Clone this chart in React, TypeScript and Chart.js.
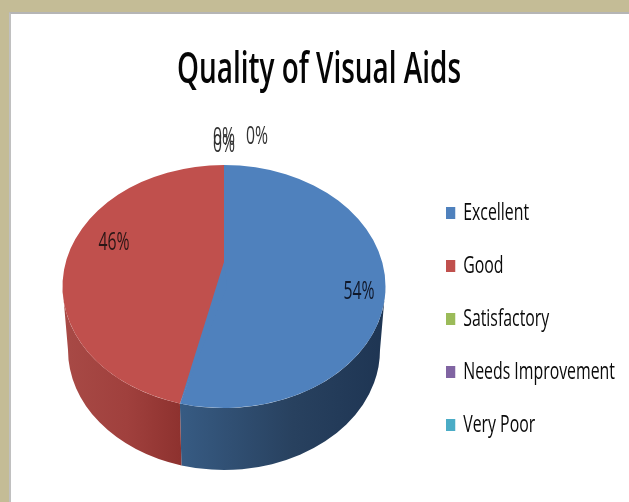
import React, { useEffect, useRef } from "react";
import { Chart, registerables } from "chart.js";

Chart.register(...registerables);

const titleText = "Quality of Visual Aids";
const categories = ["Excellent", "Good", "Satisfactory", "Needs Improvement", "Very Poor"];
const shares = [54.4, 45.6, 0, 0, 0];
const sliceColors = ["#4F81BD", "#C0504D", "#9BBB59", "#8064A2", "#4BACC6"];

const FACE = { cx: 224, cy: 286.5, rx: 161.5, ry: 121.5 };
const BASE = { cx: 224, cy: 350, rx: 156, ry: 120 };
const APEX = { x: 224, y: 262 };
const TITLE_BOX = { cx: 319, cy: 71, width: 284 };
const LEGEND_BOX = { x: 446, firstY: 213, width: 169 };
const LABEL_SX = 0.63;
// Pixel offset of each percentage label from its slice's rim anchor.
const labelAnchors = [
  { dx: 135, dy: 5.5, color: "#10182a" },
  { dx: -110, dy: -44, color: "#2a1616" },
  { dx: 0, dy: -27, color: "#333" },
  { dx: 0, dy: -20, color: "#333" },
  { dx: 33, dy: -28, color: "#333" },
];

const sideStops: [string, string, string][] = [
  ["#375B83", "#28415F", "#1E3553"],
  ["#A84A46", "#A0403D", "#8E322F"],
  ["#777", "#777", "#777"],
  ["#777", "#777", "#777"],
  ["#777", "#777", "#777"],
];

const pie3d = {
  id: "pie3d",
  beforeDatasetsDraw(chart: any) {
    const { ctx } = chart;
    const arcs = chart.getDatasetMeta(0).data;
    arcs.forEach((arc: any, i: number) => {
      const { startAngle, endAngle } = arc.getProps(["startAngle", "endAngle"]);
      // front half of the disc: canvas angles 0..PI, also tested one turn up
      for (const shift of [0, Math.PI * 2]) {
        const a0 = Math.max(startAngle, shift);
        const a1 = Math.min(endAngle, shift + Math.PI);
        if (a1 <= a0) continue;
        ctx.save();
        ctx.beginPath();
        ctx.ellipse(FACE.cx, FACE.cy, FACE.rx, FACE.ry, 0, a0, a1);
        ctx.ellipse(BASE.cx, BASE.cy, BASE.rx, BASE.ry, 0, a1, a0, true);
        ctx.closePath();
        const x0 = FACE.cx + FACE.rx * Math.min(Math.cos(a0), Math.cos(a1));
        const x1 = FACE.cx + FACE.rx * Math.max(Math.cos(a0), Math.cos(a1));
        const g = ctx.createLinearGradient(x0, 0, x1, 0);
        g.addColorStop(0, sideStops[i][0]);
        g.addColorStop(0.55, sideStops[i][1]);
        g.addColorStop(1, sideStops[i][2]);
        ctx.fillStyle = g;
        ctx.fill();
        ctx.restore();
      }
    });
    const a = arcs[0];
    const k = FACE.rx / a.outerRadius;
    ctx.save();
    ctx.translate(FACE.cx, FACE.cy);
    ctx.scale(k, (k * FACE.ry) / FACE.rx);
    ctx.translate(-a.x, -a.y);
  },
  afterDatasetsDraw(chart: any) {
    const { ctx } = chart;
    ctx.restore();
    const arcs = chart.getDatasetMeta(0).data;
    // Perspective: the slices meet above the ellipse's centre, so the first
    // slice takes a thin wedge out of the second.
    const { endAngle } = arcs[0].getProps(["endAngle"]);
    ctx.beginPath();
    ctx.moveTo(APEX.x, APEX.y);
    ctx.lineTo(FACE.cx + 3, FACE.cy);
    ctx.lineTo(FACE.cx + FACE.rx * Math.cos(endAngle), FACE.cy + FACE.ry * Math.sin(endAngle));
    ctx.closePath();
    ctx.fillStyle = sliceColors[0];
    ctx.fill();
    arcs.forEach((arc: any, i: number) => {
      const { startAngle, endAngle: end } = arc.getProps(["startAngle", "endAngle"]);
      const mid = (startAngle + end) / 2;
      const total = shares.reduce((s, v) => s + v, 0);
      const text = `${Math.round((shares[i] / total) * 100)}%`;
      const anchor = labelAnchors[i];
      const isZero = shares[i] === 0;
      const ax = isZero ? FACE.cx + FACE.rx * Math.cos(mid) : FACE.cx;
      const ay = isZero ? FACE.cy + FACE.ry * Math.sin(mid) : FACE.cy;
      ctx.save();
      ctx.translate(ax + anchor.dx, ay + anchor.dy);
      ctx.scale(LABEL_SX, 1);
      ctx.font = "25px 'Open Sans'";
      ctx.textAlign = "center";
      ctx.textBaseline = "middle";
      ctx.fillStyle = anchor.color;
      ctx.fillText(text, 0, 0);
      ctx.restore();
    });
  },
};

const squeezeBoxes = {
  id: "squeezeBoxes",
  afterLayout(chart: any) {
    const title = chart.titleBlock;
    const legend = chart.legend;
    const { ctx } = chart;
    if (title && !title.__wrapped) {
      const draw = title.draw.bind(title);
      title.__wrapped = true;
      title.draw = () => {
        ctx.save();
        ctx.font = title.options.font.weight + " " + title.options.font.size + "px " + title.options.font.family;
        const w = ctx.measureText(titleText).width;
        ctx.restore();
        const sx = TITLE_BOX.width / w;
        const mid = (title.left + title.right) / 2;
        const midY = title.top + title.height / 2;
        ctx.save();
        ctx.translate(TITLE_BOX.cx, TITLE_BOX.cy);
        ctx.scale(sx, 1);
        ctx.translate(-mid, -midY);
        draw();
        ctx.restore();
      };
    }
    if (legend && !legend.__wrapped) {
      const draw = legend.draw.bind(legend);
      legend.__wrapped = true;
      legend.draw = () => {
        const f = legend.options.labels.font;
        ctx.save();
        ctx.font = f.weight + " " + f.size + "px " + f.family;
        const longest = ctx.measureText(categories[3]).width;
        ctx.restore();
        const boxW = legend.options.labels.boxWidth;
        const sx = LEGEND_BOX.width / (longest + boxW + f.size / 2);
        const hb = legend.legendHitBoxes[0];
        const topFirst = hb.top + hb.height / 2;
        ctx.save();
        ctx.translate(LEGEND_BOX.x, LEGEND_BOX.firstY);
        ctx.scale(sx, 1);
        ctx.translate(-hb.left, -topFirst);
        draw();
        ctx.restore();
      };
    }
  },
};

export default function App() {
  const ref = useRef<HTMLCanvasElement | null>(null);
  useEffect(() => {
    document.body.style.margin = "0";
    document.body.style.overflow = "hidden";
    const chart = new Chart(ref.current as HTMLCanvasElement, {
      type: "pie",
      data: {
        labels: categories,
        datasets: [{ data: shares, backgroundColor: sliceColors, borderWidth: 0 }],
      },
      plugins: [pie3d, squeezeBoxes],
      options: {
        responsive: false,
        animation: false,
        plugins: {
          title: {
            display: true,
            text: titleText,
            color: "#050505",
            padding: 0,
            font: { family: "'Open Sans'", size: 43, weight: "600" },
          },
          legend: {
            position: "right",
            labels: {
              color: "#0a0a0a",
              boxWidth: 14,
              boxHeight: 12,
              padding: 29,
              font: { family: "'Open Sans'", size: 24, weight: "500" },
            },
          },
          tooltip: { enabled: false },
        },
      },
    } as any);
    return () => chart.destroy();
  }, []);
  return (
    <div style={{ position: "fixed", inset: 0, width: 629, height: 502, background: "#C4BC96", overflow: "hidden" }}>
      <div
        style={{
          position: "absolute",
          left: 9,
          top: 12,
          width: 640,
          height: 500,
          background: "#fff",
          borderTop: "2px solid #b5b5b5",
          borderLeft: "2px solid #c0c0c0",
          boxSizing: "border-box",
        }}
      />
      <canvas ref={ref} width={629} height={502} style={{ position: "absolute", left: 0, top: 0, display: "block" }} />
    </div>
  );
}
